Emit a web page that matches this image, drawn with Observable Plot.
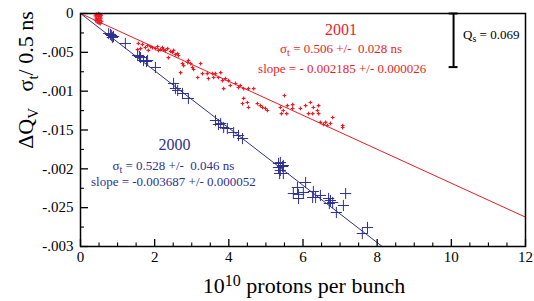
<!DOCTYPE html>
<html><head><meta charset="utf-8">
<script src="https://cdn.jsdelivr.net/npm/d3@7"></script>
<script src="https://cdn.jsdelivr.net/npm/@observablehq/plot@0.6"></script>
<style>body{margin:0;background:#fff} svg{display:block}</style>
</head><body><div id="chart"></div>
<script>
// ---- axis ticks ----
const xTicks = [0, 2, 4, 6, 8, 10, 12];
const xMinor = [0.5, 1, 1.5, 2.5, 3, 3.5, 4.5, 5, 5.5, 6.5, 7, 7.5, 8.5, 9, 9.5, 10.5, 11, 11.5];
const yTicks = [0, -0.005, -0.01, -0.015, -0.02, -0.025, -0.03];
const yTickLabels = ["0", "-.005", "-.001", "-.015", "-.002", "-.025", "-.003"];
const yMinor = [-0.0025, -0.0075, -0.0125, -0.0175, -0.0225, -0.0275];

// ---- 2001 run (red) : intensity (1e10 p/bunch), dQv*sigma/0.5ns ----
const n2001 = [0.40,0.43,0.46,0.49,0.51,0.54,0.43,0.46,0.49,0.52,0.55,0.57,0.45,0.50,0.53,0.41,0.48,0.56,
  1.54,1.56,1.62,1.67,1.75,1.81,1.83,1.89,1.94,2.02,2.08,2.10,2.16,2.21,2.24,2.29,2.35,2.37,2.43,2.48,2.51,2.56,2.62,2.64,
  2.70,2.75,2.78,2.89,2.91,2.97,3.02,3.05,3.16,3.24,3.29,3.42,3.45,3.56,3.59,3.64,3.72,3.78,3.83,3.86,3.91,3.99,4.04,
  4.18,4.26,4.31,4.40,4.53,4.67,4.40,4.50,4.37,4.53,4.77,4.85,4.91,4.99,5.04,5.50,5.39,5.47,5.56,5.42,5.58,5.72,5.72,
  5.93,6.07,6.20,6.28,6.42,6.39,6.15,6.26,6.42,6.80,6.47,6.55,6.66,6.61,6.74,7.07,7.07];
const q2001 = [-0.0003,-0.0001,-0.0002,-0.0004,-0.0001,-0.0003,-0.0006,-0.0008,-0.0007,-0.0009,-0.0006,-0.0010,-0.0011,-0.0012,-0.0013,-0.0009,0.0000,-0.0002,
  -0.00464,-0.00386,-0.00451,-0.00399,-0.00438,-0.00412,-0.00476,-0.00425,-0.00438,-0.00451,-0.00425,-0.00476,-0.00464,-0.00438,-0.00464,-0.00476,-0.00451,-0.00567,-0.00489,-0.00502,-0.00476,-0.00528,-0.00515,-0.00541,
  -0.0076,-0.00644,-0.0067,-0.00631,-0.00605,-0.00644,-0.00695,-0.00721,-0.00824,-0.00644,-0.00773,-0.00773,-0.00837,-0.00773,-0.00824,-0.00773,-0.00824,-0.0076,-0.00863,-0.00966,-0.00837,-0.00863,-0.00927,
  -0.00901,-0.00953,-0.00927,-0.00966,-0.00966,-0.00966,-0.01094,-0.01146,-0.01159,-0.0121,-0.01159,-0.01185,-0.0121,-0.01223,-0.01249,-0.01056,-0.0121,-0.01249,-0.01288,-0.01288,-0.01185,-0.01172,-0.01223,
  -0.01223,-0.01185,-0.01146,-0.0121,-0.01185,-0.01249,-0.01288,-0.01288,-0.01288,-0.01339,-0.01403,-0.01429,-0.01442,-0.01403,-0.01416,-0.01442,-0.01468];

// ---- 2000 run (blue) ----
const n2000 = [0.76,0.81,0.84,0.89,0.86,1.21,1.54,1.59,1.62,1.70,1.78,1.81,2.02,2.51,2.56,2.62,2.75,2.91,
  3.64,3.72,3.78,3.86,3.96,4.13,4.26,4.37,5.34,5.39,5.34,5.45,5.47,5.39,5.47,5.37,6.07,5.85,5.74,5.88,6.01,5.88,
  6.28,6.26,6.34,6.47,6.69,6.74,6.71,6.80,7.15,7.09,6.90,7.74,7.60];
const q2000 = [-0.00258,-0.0027,-0.00283,-0.00296,-0.00309,-0.00386,-0.00541,-0.00554,-0.00567,-0.00605,-0.00618,-0.00605,-0.00695,-0.00901,-0.00966,-0.00991,-0.0103,-0.01094,
  -0.01378,-0.01429,-0.01416,-0.01468,-0.01481,-0.01532,-0.01571,-0.0161,-0.01931,-0.01919,-0.01983,-0.0197,-0.01957,-0.02021,-0.0206,-0.0206,-0.02176,-0.0224,-0.02318,-0.0233,-0.02305,-0.02382,
  -0.02292,-0.02369,-0.02369,-0.02343,-0.02382,-0.02408,-0.02446,-0.02434,-0.02318,-0.02472,-0.02562,-0.02755,-0.02833];

// ---- fits ----
const slope2001 = -0.002185, slope2000 = -0.003687;
const qs = 0.069;

const RED = "#ec1c24", BLUE = "#2e3192";
const FONT = "'Liberation Serif', 'Times New Roman', serif";
const W = 534, H = 301, mL = 80, mR = 9, mT = 13, mB = 55;
const plotW = W - mL - mR, plotH = H - mT - mB;

const pts2001 = n2001.map((x, i) => ({x, y: q2001[i]}));
const pts2000 = n2000.map((x, i) => ({x, y: q2000[i]}));
const yMin = yTicks[yTicks.length - 1];
const fit2001 = [0, 12].map(x => ({x, y: slope2001 * x}));
const fit2000 = [0, yMin / slope2000].map(x => ({x, y: slope2000 * x}));
const barX = 10.06;

const chart = Plot.plot({
  width: W, height: H,
  marginLeft: mL, marginRight: mR, marginTop: mT, marginBottom: mB,
  style: {fontFamily: FONT, background: "white", color: "black"},
  x: {domain: [0, 12], axis: null},
  y: {domain: [yMin, 0], axis: null},
  marks: [
    Plot.line(fit2001, {x: "x", y: "y", stroke: RED, strokeWidth: 1}),
    Plot.line(fit2000, {x: "x", y: "y", stroke: BLUE, strokeWidth: 1}),
    Plot.dot(pts2001, {x: "x", y: "y", symbol: "plus", r: 1.3, stroke: RED, strokeWidth: 1.2}),
    Plot.dot(pts2000, {x: "x", y: "y", symbol: "plus", r: 3.7, stroke: BLUE, strokeWidth: 1}),
    // Qs bar
    Plot.ruleX([barX], {x: d => d, y1: 0, y2: -qs / 10, stroke: "black", strokeWidth: 2}),
    Plot.ruleY([0, -qs / 10], {y: d => d, x1: barX - 0.12, x2: barX + 0.12, stroke: "black", strokeWidth: 2}),
    // inward ticks
    Plot.ruleX(xTicks, {x: d => d, insetTop: plotH - 7, stroke: "black", strokeWidth: 1.3}),
    Plot.ruleX(xMinor, {x: d => d, insetTop: plotH - 3.5, stroke: "black", strokeWidth: 1.1}),
    Plot.ruleY(yTicks, {y: d => d, insetRight: plotW - 8, stroke: "black", strokeWidth: 1.3}),
    Plot.ruleY(yMinor, {y: d => d, insetRight: plotW - 4, stroke: "black", strokeWidth: 1.1}),
    Plot.axisX(xTicks, {tickSize: 0, tickPadding: 5, fontSize: 15, tickFormat: d => String(d), label: null, fill: "black"}),
    Plot.axisY(yTicks, {tickSize: 0, tickPadding: 7, fontSize: 15, tickFormat: d => yTickLabels[yTicks.indexOf(d)], label: null, fill: "black"}),
    Plot.frame({stroke: "black", strokeWidth: 1.5})
  ]
});
document.getElementById("chart").appendChild(chart);

// ---- annotations with sub/superscripts ----
const sx = chart.scale("x"), sy = chart.scale("y");
const svg = d3.select(chart);
function rich(parent, parts, attrs) {
  const t = parent.append("text").attr("font-family", FONT).style("white-space", "pre");
  for (const [k, v] of Object.entries(attrs)) t.attr(k, v);
  let shift = 0;
  for (const p of parts) {
    const ts = t.append("tspan").text(p.t);
    const target = p.s || 0;
    if (target !== shift) { ts.attr("dy", target - shift); shift = target; }
    if (p.size) ts.attr("font-size", p.size);
  }
  return t;
}
const annot = [
  {x: 7.04, y: -0.00283, color: RED, size: 16, parts: [{t: "2001"}]},
  {x: 7.04, y: -0.00515, color: RED, size: 13, parts: [{t: "σ"}, {t: "t", s: 3, size: 10}, {t: " = 0.506 +/-  0.028 ns", s: 0}]},
  {x: 7.07, y: -0.00773, color: RED, size: 13, parts: [{t: "slope = - 0.002185 +/- 0.000026"}]},
  {x: 2.55, y: -0.01764, color: BLUE, size: 16, parts: [{t: "2000"}]},
  {x: 2.52, y: -0.02021, color: BLUE, size: 13, parts: [{t: "σ"}, {t: "t", s: 3, size: 10}, {t: " = 0.528 +/-  0.046 ns", s: 0}]},
  {x: 2.52, y: -0.02228, color: BLUE, size: 13, parts: [{t: "slope = -0.003687 +/- 0.000052"}]}
];
for (const a of annot) {
  rich(svg, a.parts, {x: sx.apply(a.x), y: sy.apply(a.y), fill: a.color, "font-size": a.size, "text-anchor": "middle"});
}
rich(svg, [{t: "Q"}, {t: "s", s: 3, size: 10}, {t: " = 0.069", s: 0}],
  {x: sx.apply(10.33), y: sy.apply(-0.00335), fill: "black", "font-size": 13, "text-anchor": "start"});

// axis titles
rich(svg, [{t: "10"}, {t: "10", s: -7, size: 16}, {t: " protons per bunch", s: 0}],
  {x: 304, y: 293, fill: "black", "font-size": 22, "text-anchor": "middle"});
rich(svg, [{t: "ΔQ"}, {t: "V", s: 5, size: 15}, {t: "   σ", s: 0}, {t: "t", s: 5, size: 15}, {t: "/ 0.5 ns", s: 0}],
  {transform: "translate(33,80) rotate(-90)", fill: "black", "font-size": 22, "text-anchor": "middle"});
</script></body></html>
